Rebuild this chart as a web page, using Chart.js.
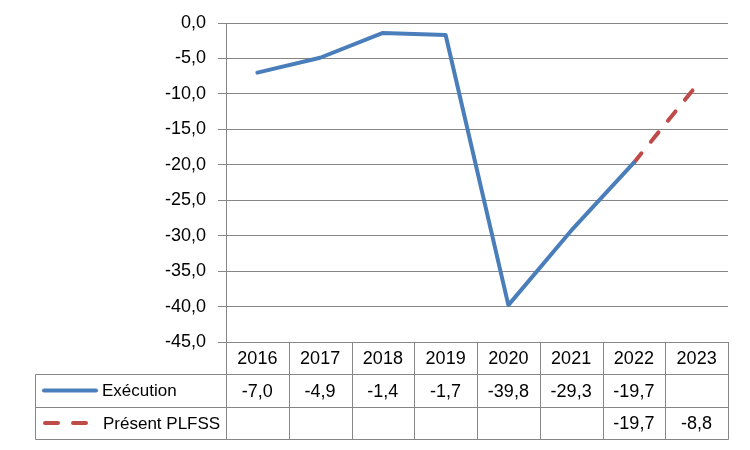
<!DOCTYPE html>
<html>
<head>
<meta charset="utf-8">
<script src="https://cdn.jsdelivr.net/npm/chart.js@4/dist/chart.umd.min.js"></script>
<style>
  html, body { margin: 0; padding: 0; background: #fff; }
  #wrap { width: 750px; height: 450px; }
</style>
</head>
<body>
<div id="wrap"><canvas id="c" width="750" height="450"></canvas></div>
<script>
const years = ["2016", "2017", "2018", "2019", "2020", "2021", "2022", "2023"];
const execution = [-7.0, -4.9, -1.4, -1.7, -39.8, -29.3, -19.7, null];
const plfss = [null, null, null, null, null, null, -19.7, -8.8];
const seriesNames = ["Exécution", "Présent PLFSS"];
const yMin = -45, yMax = 0, yStep = 5;

const FONT = "'Liberation Sans', Arial, sans-serif";
const GRID = "#868686";
const BLUE = "#4a7ebb";
const RED = "#be4b48";

function fmt(v) {
  if (v === null || v === undefined) return "";
  return v.toFixed(1).replace(".", ",");
}

const tablePlugin = {
  id: "dataTable",
  afterDraw(chart) {
    const ctx = chart.ctx;
    const xs = chart.scales.x;
    const area = chart.chartArea;
    const n = years.length;
    const w = (area.right - area.left) / n;
    const top = Math.round(area.bottom);
    const rowH = 32.4;
    const r1 = top + rowH, r2 = top + 2 * rowH, r3 = top + 3 * rowH;
    const legLeft = 35.5;
    const snap = v => Math.round(v) + 0.5;

    ctx.save();
    ctx.strokeStyle = GRID;
    ctx.lineWidth = 1;
    ctx.beginPath();
    for (let i = 0; i <= n; i++) {
      const xx = snap(area.left + i * w);
      ctx.moveTo(xx, top);
      ctx.lineTo(xx, snap(r3));
    }
    ctx.moveTo(legLeft, snap(r1)); ctx.lineTo(snap(area.right), snap(r1));
    ctx.moveTo(legLeft, snap(r2)); ctx.lineTo(snap(area.right), snap(r2));
    ctx.moveTo(legLeft, snap(r3)); ctx.lineTo(snap(area.right), snap(r3));
    ctx.moveTo(legLeft, snap(r1)); ctx.lineTo(legLeft, snap(r3));
    ctx.stroke();

    ctx.fillStyle = "#000";
    ctx.font = "18px " + FONT;
    ctx.textAlign = "center";
    ctx.textBaseline = "middle";
    const series = [execution, plfss];
    for (let i = 0; i < n; i++) {
      const cx = xs.getPixelForValue(i);
      ctx.fillText(years[i], cx, top + rowH / 2 + 1);
      ctx.fillText(fmt(series[0][i]), cx, r1 + rowH / 2 + 1);
      ctx.fillText(fmt(series[1][i]), cx, r2 + rowH / 2 + 1);
    }

    ctx.lineWidth = 4;
    ctx.lineCap = "round";
    ctx.strokeStyle = BLUE;
    ctx.beginPath();
    ctx.moveTo(44, r1 + rowH / 2); ctx.lineTo(96, r1 + rowH / 2);
    ctx.stroke();
    ctx.strokeStyle = RED;
    ctx.setLineDash([13, 15]);
    ctx.beginPath();
    ctx.moveTo(45, r2 + rowH / 2); ctx.lineTo(96, r2 + rowH / 2);
    ctx.stroke();
    ctx.setLineDash([]);

    ctx.font = "17px " + FONT;
    ctx.textAlign = "left";
    ctx.fillText(seriesNames[0], 102, r1 + rowH / 2 + 1);
    ctx.fillText(seriesNames[1], 103, r2 + rowH / 2 + 1);
    ctx.restore();
  }
};

new Chart(document.getElementById("c"), {
  type: "line",
  data: {
    labels: years,
    datasets: [
      {
        label: seriesNames[0],
        data: execution,
        borderColor: BLUE,
        borderWidth: 4,
        pointRadius: 0,
        tension: 0,
        borderCapStyle: "round",
        borderJoinStyle: "round",
        spanGaps: false
      },
      {
        label: seriesNames[1],
        data: plfss,
        borderColor: RED,
        borderWidth: 4,
        pointRadius: 0,
        tension: 0,
        borderDash: [12, 15],
        borderCapStyle: "round",
        spanGaps: false
      }
    ]
  },
  options: {
    responsive: false,
    devicePixelRatio: 1,
    animation: false,
    events: [],
    layout: { padding: { left: 0, top: 23, right: 22, bottom: 108 } },
    plugins: { legend: { display: false }, tooltip: { enabled: false } },
    scales: {
      x: {
        display: false,
        offset: true
      },
      y: {
        min: yMin,
        max: yMax,
        afterFit(s) { s.width = 226; },
        afterBuildTicks(s) {
          const t = [];
          for (let v = yMax; v >= yMin; v -= yStep) t.push({ value: v });
          s.ticks = t.reverse();
        },
        ticks: {
          stepSize: yStep,
          color: "#000",
          font: { family: FONT, size: 18 },
          padding: 12,
          callback: v => fmt(v)
        },
        grid: {
          color: GRID,
          lineWidth: 1,
          tickLength: 8,
          drawTicks: true
        },
        border: { color: GRID, width: 1 }
      }
    }
  },
  plugins: [tablePlugin]
});
</script>
</body>
</html>
